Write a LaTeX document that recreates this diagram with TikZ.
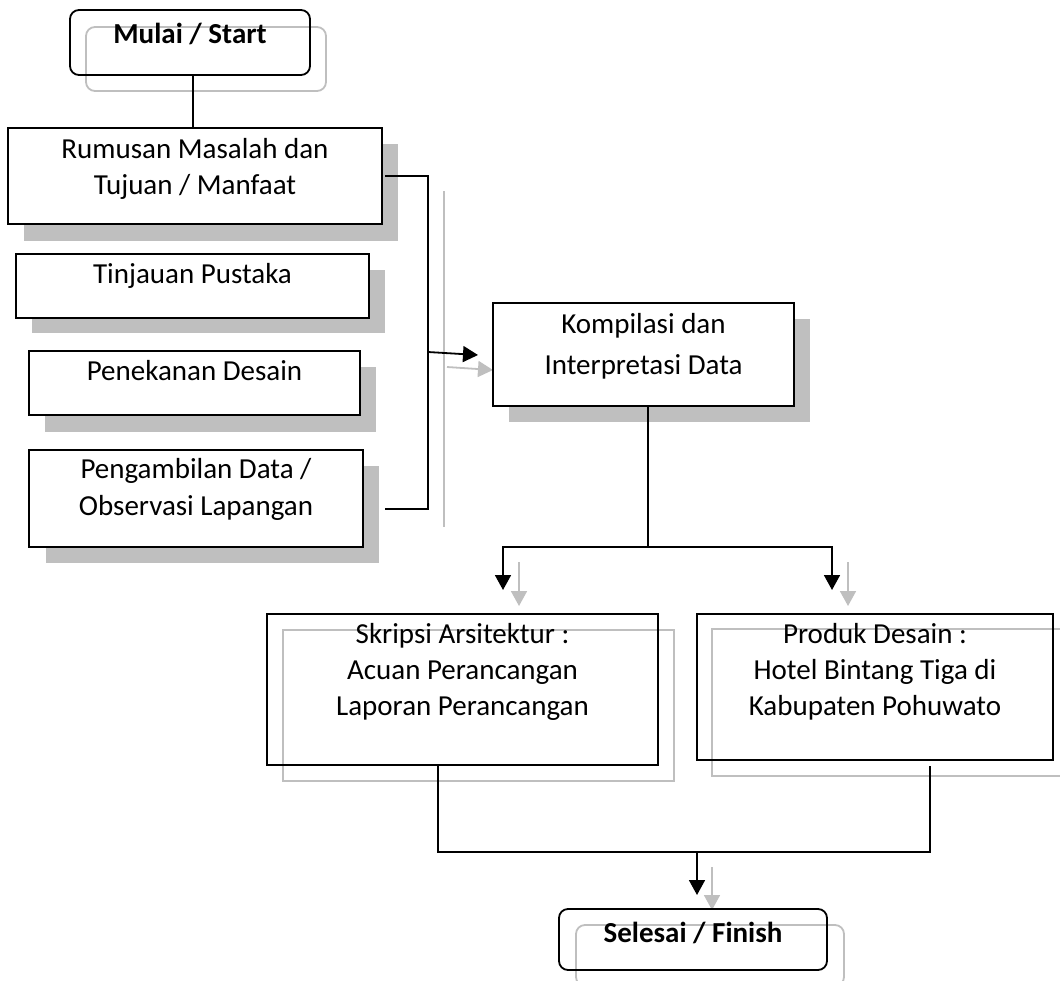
\documentclass[tikz,border=0pt]{standalone}
\usepackage{fontspec}
\setmainfont{Carlito}
\usetikzlibrary{arrows.meta,backgrounds}
\definecolor{shade}{HTML}{BFBFBF}
\definecolor{ghost}{HTML}{BFBFBF}
\begin{document}
\begin{tikzpicture}[x=1pt,y=-1pt,
  box/.style={draw=black,line width=1.8pt,fill=white,rectangle,inner sep=0pt,outer sep=0pt,anchor=north west},
  obox/.style={draw=black,line width=1.8pt,rectangle,inner sep=0pt,outer sep=0pt,anchor=north west},
  rbox/.style={obox,rounded corners=9pt},
  txt/.style={inner sep=0pt,outer sep=0pt,anchor=north,align=center,font=\fontsize{29}{36}\selectfont},
  btxt/.style={txt,font=\fontsize{29}{36}\selectfont\bfseries},
  conn/.style={draw=black,line width=1.8pt},
  ghostline/.style={draw=ghost,line width=1.8pt},
  tip/.style={-{Triangle[length=15pt,width=16pt]}},
  shadowfill/.style={fill=shade},
]
\useasboundingbox (0,0) rectangle (1060,980);

% ---------------- boxes ----------------
\node[rbox,minimum width=240pt,minimum height=65pt] (start) at (70,10) {};
\node[box,minimum width=374pt,minimum height=96pt] (rumusan) at (8,128) {};
\node[box,minimum width=353pt,minimum height=64pt] (tinjauan) at (16,254) {};
\node[box,minimum width=331pt,minimum height=64pt] (penekanan) at (29,351) {};
\node[box,minimum width=334pt,minimum height=97pt] (pengambilan) at (29,450) {};
\node[box,minimum width=301pt,minimum height=103pt] (kompilasi) at (493,303) {};
\node[obox,minimum width=391pt,minimum height=151pt] (skripsi) at (267,614) {};
\node[obox,minimum width=356pt,minimum height=146pt] (produk) at (697,614) {};
\node[rbox,minimum width=268pt,minimum height=61pt] (finish) at (559,909) {};

% ---------------- texts ----------------
\node[btxt] (start-t) at ([yshift=-8pt]start.north) {\rule{0pt}{25pt}Mulai / Start};
\node[txt,font=\fontsize{29}{36}\selectfont] (rumusan-t) at ([yshift=-5pt]rumusan.north) {\rule{0pt}{25pt}Rumusan Masalah dan\\Tujuan / Manfaat};
\node[txt] (tinjauan-t) at ([yshift=-4pt]tinjauan.north) {\rule{0pt}{25pt}Tinjauan Pustaka};
\node[txt] (penekanan-t) at ([yshift=-4pt]penekanan.north) {\rule{0pt}{25pt}Penekanan Desain};
\node[txt,font=\fontsize{29}{37}\selectfont] (pengambilan-t) at ([yshift=-3pt]pengambilan.north) {\rule{0pt}{25pt}Pengambilan Data /\\Observasi Lapangan};
\node[txt,font=\fontsize{29}{41}\selectfont] (kompilasi-t) at ([yshift=-5pt]kompilasi.north) {\rule{0pt}{25pt}Kompilasi dan\\Interpretasi Data};
\node[txt] (skripsi-t) at ([yshift=-4pt]skripsi.north) {\rule{0pt}{25pt}Skripsi Arsitektur :\\Acuan Perancangan\\Laporan Perancangan};
\node[txt] (produk-t) at ([yshift=-4pt]produk.north) {\rule{0pt}{25pt}Produk Desain :\\Hotel Bintang Tiga di\\Kabupaten Pohuwato};
\node[btxt] (finish-t) at ([yshift=-8pt]finish.north) {\rule{0pt}{25pt}Selesai / Finish};

% ---------------- connector points ----------------
\coordinate (brk-top) at (428,176);
\coordinate (brk-bot) at (428,509);
\coordinate (pg-end) at (385,509);
\coordinate (arr-s) at (428,352);
\coordinate (arr-e) at (478,355);
\coordinate (split) at (648,547);
\coordinate (hl) at (503,547);
\coordinate (hr) at (832,547);
\coordinate (hl-tip) at (503,590);
\coordinate (hr-tip) at (832,590);
\coordinate (jl) at (438,852);
\coordinate (jr) at (930,852);
\coordinate (jm) at (697,852);
\coordinate (jm-tip) at (697,895);

% ---------------- connectors ----------------
\draw[conn] ([xshift=3pt]start.south) -- ([xshift=3pt]start.south |- rumusan.north);
\draw[conn] ([xshift=3pt]rumusan.east) -- (brk-top) -- (brk-bot) -- (pg-end);
\draw[conn,tip] (arr-s) -- (arr-e);
\draw[conn] ([xshift=4.5pt]kompilasi.south) -- (split);
\draw[conn,tip] (split) -- (hl) -- (hl-tip);
\draw[conn,tip] (split) -- (hr) -- (hr-tip);
\draw[conn] ([xshift=-24.5pt]skripsi.south) -- (jl) -- (jr) -- ([shift={(55,6)}]produk.south);
\draw[conn,tip] (jm) -- (jm-tip);

% ---------------- shadows ----------------
\begin{scope}[on background layer]
  \clip (0,0) rectangle (1060,980);
  \fill[shadowfill] ([shift={(16,16)}]rumusan.north west) rectangle ([shift={(16,17)}]rumusan.south east);
  \fill[shadowfill] ([shift={(16,16)}]tinjauan.north west) rectangle ([shift={(16,15)}]tinjauan.south east);
  \fill[shadowfill] ([shift={(16,16)}]penekanan.north west) rectangle ([shift={(16,17)}]penekanan.south east);
  \fill[shadowfill] ([shift={(17,16)}]pengambilan.north west) rectangle ([shift={(16,16)}]pengambilan.south east);
  \fill[shadowfill] ([shift={(16,16)}]kompilasi.north west) rectangle ([shift={(16,16)}]kompilasi.south east);
  \draw[ghostline,rounded corners=9pt] ([shift={(16,17)}]start.north west) rectangle ([shift={(16,16)}]start.south east);
  \draw[ghostline] ([shift={(16,16)}]skripsi.north west) rectangle ([shift={(16,16)}]skripsi.south east);
  \draw[ghostline] ([shift={(15,15)}]produk.north west) rectangle ([shift={(15,16)}]produk.south east);
  \draw[ghostline,rounded corners=9pt] ([shift={(17,16)}]finish.north west) rectangle ([shift={(17,16)}]finish.south east);
  \draw[ghostline] ([shift={(16,15)}]brk-top) -- ([shift={(16,18)}]brk-bot);
  \draw[ghostline,tip] ([shift={(19,15)}]arr-s) -- ([shift={(15,15)}]arr-e);
  \draw[ghostline,tip] ([shift={(16,15)}]hl) -- ([shift={(16,16)}]hl-tip);
  \draw[ghostline,tip] ([shift={(16,15)}]hr) -- ([shift={(16,16)}]hr-tip);
  \draw[ghostline,tip] ([shift={(15,15)}]jm) -- ([shift={(15,15)}]jm-tip);
\end{scope}
\end{tikzpicture}
\end{document}
